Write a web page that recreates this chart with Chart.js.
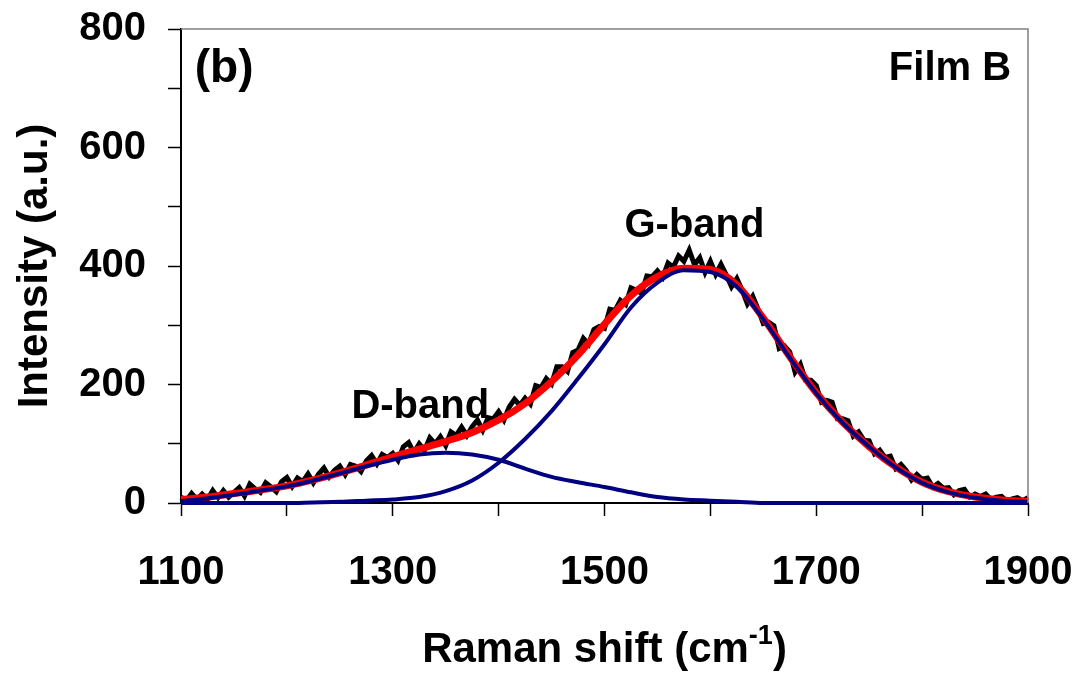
<!DOCTYPE html>
<html><head><meta charset="utf-8">
<script src="https://cdn.jsdelivr.net/npm/chart.js@4"></script>
<style>html,body{margin:0;padding:0;background:#fff;}</style>
</head><body>
<canvas id="c" width="1078" height="677"></canvas>
<script>
// Measured spectrum (black)
const rawShift = [1100,1105,1110,1115,1120,1125,1130,1135,1140,1145,1150,1155,1160,1165,1170,1175,1180,1185,1190,1195,1200,1205,1210,1215,1220,1225,1230,1235,1240,1245,1250,1255,1260,1265,1270,1275,1280,1285,1290,1295,1300,1305,1310,1315,1320,1325,1330,1335,1340,1345,1350,1355,1360,1365,1370,1375,1380,1385,1390,1395,1400,1405,1410,1415,1420,1425,1430,1435,1440,1445,1450,1455,1460,1465,1470,1475,1480,1485,1490,1495,1500,1505,1510,1515,1520,1525,1530,1535,1540,1545,1550,1555,1560,1565,1570,1575,1580,1585,1590,1595,1600,1605,1610,1615,1620,1625,1630,1635,1640,1645,1650,1655,1660,1665,1670,1675,1680,1685,1690,1695,1700,1705,1710,1715,1720,1725,1730,1735,1740,1745,1750,1755,1760,1765,1770,1775,1780,1785,1790,1795,1800,1805,1810,1815,1820,1825,1830,1835,1840,1845,1850,1855,1860,1865,1870,1875,1880,1885,1890,1895,1900];
const rawIntensity = [10,4,16,6,15, 6,21,9,21,10, 18,26,12,32,24, 18,34,27,19,36, 43,28,42,36,49, 34,49,59,44,55, 62,48,65,62,53, 71,80,66,82,77, 84,72,95,102,85, 100,89,110,100,112, 97,120,114,128,114, 129,140,123,144,142, 154,140,162,175,165, 177,167,198,195,210, 201,230,230,222,254, 258,278,268,293,298, 295,327,325,342,335, 363,359,354,383,382, 392,381,405,398,417, 408,427,402,414,389, 408,386,403,385,365, 379,359,336,349,327, 303,305,299,261,265, 255,221,234,207,207, 198,170,173,170,142, 142,139,113,120,106, 105,83,89,77,79, 58,65,55,39,48, 40,42,27,33,25, 26,14,21,23,10, 15,11,15,6,10, 11,3,7,9,4, 9];

// Fitted curves
const fitShift = [1100,1125,1150,1175,1200,1225,1250,1275,1300,1325,1350,1375,1400,1425,1450,1475,1500,1525,1550,1575,1600,1625,1650,1675,1700,1725,1750,1775,1800,1825,1850,1875,1900];
const fitTotal = [6,10,16,22,29,39,51,64,78,91,104,119,140,168,205,250,302,350,382,396,394,368,312,247,186,136,95,61,35,19,10,5,3];
const dBand    = [3,8,14,21,28,38,50,62,73,82,85,82,73,58,44,35,27,18,10,6,4,2,0,0,0,0,0,0,0,0,0,0,0];
const gBand    = [0,0,0,0,0,1,2,4,6,10,20,38,68,108,155,210,268,330,372,393,390,365,310,245,185,135,95,60,34,18,9,4,2];

// Axis tick labels
const xTickLabels = [1100,1300,1500,1700,1900];
const yTickLabels = [0,200,400,600,800];

const FONT = "'Liberation Sans', Arial, Helvetica, sans-serif";
const pts = (xs, ys) => xs.map((x, i) => ({x: x, y: ys[i]}));

const textPlugin = {
  id: 'texts',
  afterDraw(chart) {
    const ctx = chart.ctx, ca = chart.chartArea;
    const xs = chart.scales.x, ys = chart.scales.y;
    ctx.save();
    // frame top & right
    ctx.strokeStyle = '#808080';
    ctx.lineWidth = 1.5;
    ctx.beginPath();
    ctx.moveTo(ca.left, ca.top); ctx.lineTo(ca.right, ca.top); ctx.lineTo(ca.right, ca.bottom);
    ctx.stroke();
    ctx.fillStyle = '#000';
    // annotations
    const notes = [
      {t: '(b)', x: 1113, y: 710, size: 46, align: 'left'},
      {t: 'Film B', x: 1884, y: 714, size: 40, align: 'right'},
      {t: 'G-band', x: 1585, y: 449, size: 40, align: 'center'},
      {t: 'D-band', x: 1326, y: 143, size: 40, align: 'center'}
    ];
    ctx.textBaseline = 'alphabetic';
    notes.forEach(n => {
      ctx.font = 'bold ' + n.size + 'px ' + FONT;
      ctx.textAlign = n.align;
      ctx.fillText(n.t, xs.getPixelForValue(n.x), ys.getPixelForValue(n.y));
    });
    // y title
    ctx.save();
    ctx.translate(47, (ca.top + ca.bottom) / 2);
    ctx.rotate(-Math.PI / 2);
    ctx.font = 'bold 42px ' + FONT;
    ctx.textAlign = 'center';
    ctx.fillText('Intensity (a.u.)', 0, 0);
    ctx.restore();
    // x title with superscript
    const big = 'bold 42px ' + FONT, small = 'bold 27px ' + FONT;
    ctx.textAlign = 'left';
    ctx.font = big;
    const w1 = ctx.measureText('Raman shift (cm').width;
    const w3 = ctx.measureText(')').width;
    ctx.font = small;
    const w2 = ctx.measureText('-1').width;
    const total = w1 + w2 + w3;
    let x0 = (ca.left + ca.right) / 2 - total / 2;
    const base = 662;
    ctx.font = big; ctx.fillText('Raman shift (cm', x0, base);
    ctx.font = small; ctx.fillText('-1', x0 + w1, base - 18);
    ctx.font = big; ctx.fillText(')', x0 + w1 + w2, base);
    ctx.restore();
  }
};

new Chart(document.getElementById('c'), {
  type: 'line',
  data: {
    datasets: [
      {label: 'D-band', data: pts(fitShift, dBand), borderColor: '#000080', borderWidth: 4, pointRadius: 0, cubicInterpolationMode: 'monotone', fill: false, clip: false},
      {label: 'G-band', data: pts(fitShift, gBand), borderColor: '#000080', borderWidth: 4, pointRadius: 0, cubicInterpolationMode: 'monotone', fill: false, clip: false},
      {label: 'Fit', data: pts(fitShift, fitTotal), borderColor: '#ff0000', borderWidth: 7, pointRadius: 0, cubicInterpolationMode: 'monotone', fill: false, clip: false},
      {label: 'Data', data: pts(rawShift, rawIntensity), borderColor: '#000000', borderWidth: 5, pointRadius: 0, tension: 0, fill: false, clip: false}
    ]
  },
  options: {
    responsive: false,
    animation: false,
    devicePixelRatio: 1,
    layout: {padding: {top: 29, right: 50, left: 0, bottom: 0}},
    plugins: {legend: {display: false}, tooltip: {enabled: false}},
    scales: {
      x: {
        type: 'linear', min: 1100, max: 1900,
        afterFit: s => { s.height = 174; s.paddingLeft = 0; s.paddingRight = 0; },
        border: {display: true, color: '#000', width: 2},
        grid: {drawOnChartArea: false, drawTicks: true, tickLength: 13, tickColor: '#000', tickWidth: 1.5},
        ticks: {
          stepSize: 100, autoSkip: false, maxRotation: 0, padding: 33, color: '#000',
          font: {family: FONT, size: 40, weight: 'bold'},
          callback: v => (xTickLabels.includes(v) ? String(v) : '')
        }
      },
      y: {
        type: 'linear', min: 0, max: 800,
        afterFit: s => { s.width = 181; s.paddingTop = 0; s.paddingBottom = 0; },
        border: {display: true, color: '#000', width: 2},
        grid: {drawOnChartArea: false, drawTicks: true, tickLength: 13, tickColor: '#000', tickWidth: 1.5},
        ticks: {
          stepSize: 100, autoSkip: false, padding: 22, color: '#000',
          font: {family: FONT, size: 40, weight: 'bold'},
          callback: v => (yTickLabels.includes(v) ? String(v) : '')
        }
      }
    }
  },
  plugins: [textPlugin]
});
</script>
</body></html>
